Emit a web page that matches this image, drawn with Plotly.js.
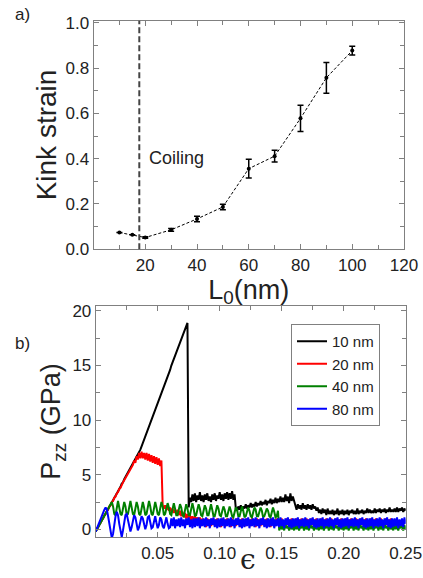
<!DOCTYPE html>
<html>
<head>
<meta charset="utf-8">
<script src="https://cdn.plot.ly/plotly-3.0.1.min.js"></script>
<style>html,body{margin:0;padding:0;background:#fff;}#chart{width:423px;height:578px;}</style>
</head>
<body>
<div id="chart"></div>
<script>
// ---- Panel a) data ----
var lengths = [10, 15, 20, 30, 40, 50, 60, 70, 80, 90, 100];
var kinkStrain = [0.074, 0.064, 0.052, 0.086, 0.134, 0.187, 0.356, 0.411, 0.578, 0.757, 0.877];
var kinkErr = [0, 0, 0.003, 0.006, 0.012, 0.012, 0.041, 0.026, 0.058, 0.068, 0.019];
var coilingL = 17.7;

// ---- Panel b) data (strain step 0.001 from 0) ----
var seriesNames = ['10 nm', '20 nm', '40 nm', '80 nm'];
var seriesColors = ['#000000', '#ff0000', '#008000', '#0000ff'];
var strainStart = 0, strainStep = 0.001;

var p10 = [
-0.2,0.0,0.2,0.4,0.6,0.8,1.0,1.3,1.4,1.7,
1.9,2.0,2.3,2.5,2.6,2.9,3.1,3.3,3.5,3.7,
3.9,4.2,4.3,4.6,4.8,5.0,5.2,5.4,5.6,5.8,
6.0,6.2,6.4,6.6,6.8,7.0,7.3,7.6,7.9,8.2,
8.5,8.8,9.1,9.4,9.7,10.0,10.3,10.7,11.0,11.3,
11.6,11.9,12.2,12.5,12.8,13.1,13.4,13.7,14.0,14.3,
14.6,15.0,15.3,15.6,15.9,16.2,16.5,16.8,17.1,17.4,
17.7,18.0,18.3,18.6,18.9,
2.0,
2.9,2.5,3.2,2.6,3.3,2.5,3.1,2.7,3.4,2.6,
3.1,2.5,3.2,2.7,3.3,2.6,3.0,2.5,3.2,2.7,
3.3,2.6,3.1,2.8,3.4,2.7,3.2,2.6,3.3,2.8,
3.4,2.7,3.3,2.8,3.5,2.7,3.2,
1.9,1.7,2.1,1.8,2.2,1.7,2.1,1.9,
2.3,1.9,2.2,2.0,2.4,2.0,2.3,2.1,2.5,2.1,
2.4,2.2,2.6,2.2,2.5,2.3,2.7,2.2,2.6,2.4,
2.8,2.3,2.7,2.4,2.9,2.4,2.8,2.5,3.0,2.5,
2.9,2.5,3.2,2.6,3.0,2.4,3.3,2.6,3.0,2.5,
2.2,1.8,2.3,1.9,2.2,1.8,2.4,1.9,2.2,1.8,
2.3,1.9,2.2,1.8,2.3,1.9,2.1,1.7,2.0,1.5,
1.8,1.4,1.9,1.5,1.8,1.3,1.9,1.4,1.7,1.4,
1.8,1.3,1.7,1.4,1.9,1.3,1.7,1.4,1.8,1.3,
1.7,1.4,1.8,1.3,1.7,1.5,1.8,1.4,1.7,1.4,
1.9,1.4,1.7,1.5,1.8,1.4,1.7,1.5,1.9,1.5,
1.8,1.5,1.7,1.5,1.9,1.5,1.8,1.6,1.9,1.5,
1.8,1.6,1.9,1.5,1.8,1.6,2.0,1.6,1.8,1.6,
1.9,1.6,2.0,1.6,1.9,1.7,2.0,1.6,1.9,1.7
];

var p20 = [
-0.2,0.1,0.2,0.5,0.6,0.9,1.0,1.3,1.4,1.7,
1.8,2.1,2.2,2.5,2.6,2.9,3.0,3.3,3.4,3.7,
3.8,4.1,4.3,4.5,4.7,5.0,5.1,5.4,5.5,5.8,
5.9,6.3,6.1,6.7,6.4,7.0,6.5,7.1,6.5,7.0,
6.4,7.0,6.3,6.9,6.2,6.8,6.1,6.7,6.0,6.6,
5.9,6.5,5.8,6.3,
2.2,
1.9,2.2,1.8,2.1,1.7,2.0,1.6,1.9,1.5,1.8,
1.4,1.8,1.3,1.7,1.2,1.6,1.1,1.5,1.0,1.4,
0.9,1.3,0.8,1.2,0.7,1.2,0.6,1.1,0.5,1.1,
0.3,1.0,0.4,0.9,0.2,1.0,0.5,0.9,0.3,1.0,
0.4,0.9,0.3,1.0,0.4,0.8,0.2,1.0,0.4,0.9,
0.3,1.0,0.5,0.9,0.2,1.0,0.4,0.8,0.3,1.0,
0.4,0.9,0.2,1.0,0.5,0.9,0.3,1.0,0.4,0.9,
0.3,1.0,0.4,0.9,0.2,1.0,0.5,0.9,0.3,1.0,
0.4,0.9,0.3,1.0,0.4,0.8,0.2,1.0,0.4,0.9,
0.3,1.0,0.5,0.9,0.2,1.0,0.4,0.8,0.3,1.0,
0.4,0.9,0.2,1.0,0.5,0.9,0.3,1.0,0.4,0.9,
0.3,1.0,0.4,0.9,0.2,1.0,0.5,0.9,0.3,1.0,
0.4,0.9,0.3,1.0,0.4,0.8,0.2,1.0,0.4,0.9,
0.3,1.0,0.5,0.9,0.2,1.0,0.4,0.8,0.3,1.0,
0.4,0.9,0.2,1.0,0.5,0.9,0.3,1.0,0.4,0.9,
0.3,1.0,0.4,0.9,0.2,1.0,0.5,0.9,0.3,1.0,
0.4,0.9,0.3,1.0,0.4,0.8,0.2,1.0,0.4,0.9,
0.3,1.0,0.5,0.9,0.2,1.0,0.4,0.8,0.3,1.0,
0.4,0.9,0.2,1.0,0.5,0.9
];

var p40 = [
-0.2,0.0,0.2,0.4,0.6,0.8,1.0,1.2,1.4,1.6,
1.8,2.0,2.2,
2.5,2.1,1.4,1.3,1.9, 2.6,2.0,1.4,1.3,2.0, 2.5,2.1,1.3,1.4,1.9, 2.6,2.0,1.4,1.3,2.0, 2.5,2.1,1.4,1.3,1.9,
2.5,2.0,1.3,1.4,2.0, 2.6,2.1,1.4,1.3,1.9, 2.5,2.0,1.4,1.3,2.0, 2.5,2.1,1.3,1.4,1.9, 2.4,2.0,1.4,1.3,1.9,
2.4,1.9,1.3,1.3,1.8, 2.3,2.0,1.3,1.2,1.9, 2.3,1.9,1.3,1.3,1.8, 2.4,1.9,1.2,1.3,1.8,
2.3,1.9,1.3,1.2,1.8, 2.2,1.9,1.3,1.3,1.8, 2.3,1.8,1.2,1.2,1.7, 2.2,1.9,1.3,1.2,1.8,
2.1,1.8,1.2,1.2,1.7, 2.1,1.7,1.2,1.1,1.7, 2.0,1.8,1.2,1.2,1.6, 2.1,1.7,1.1,1.2,1.7, 2.0,1.7,1.2,1.1,1.6,
2.0,1.8,1.2,1.2,1.7, 2.0,1.7,1.1,1.2,1.6, 1.9,1.7,1.2,1.1,1.6, 2.0,1.6,1.1,1.2,1.7,
-0.1,0.4,0.0,0.3,-0.1,0.5,0.1,0.3,-0.1,0.4,
0.0,0.3,-0.1,0.5,0.0,0.4,-0.1,0.3,0.1,0.4,
-0.1,0.4,0.0,0.3,-0.1,0.5,0.1,0.3,-0.1,0.4,
0.0,0.3,-0.1,0.5,0.0,0.4,-0.1,0.3,0.1,0.4,
-0.1,0.4,0.0,0.3,-0.1,0.5,0.1,0.3,-0.1,0.4,
0.0,0.3,-0.1,0.5,0.0,0.4,-0.1,0.3,0.1,0.4,
-0.1,0.4,0.0,0.3,-0.1,0.5,0.1,0.3,-0.1,0.4,
0.0,0.3,-0.1,0.5,0.0,0.4,-0.1,0.3,0.1,0.4,
-0.1,0.4,0.0,0.3,-0.1,0.5,0.1,0.3,-0.1,0.4,
0.0,0.3,-0.1,0.5,0.0,0.4,-0.1,0.3,0.1,0.4,
-0.1,0.4,0.0
];

var p80 = [
-0.2,0.1,0.4,0.7,1.0,1.3,1.6,1.8,2.0,1.8,
1.2,0.5,-0.2,-0.8,-0.4,0.5,1.2,1.6,1.3,0.5,
-0.3,-0.7,-0.1,0.7,1.3,1.4,0.8,0.1,-0.2,0.2,
0.9,1.3,1.1,0.4,-0.1,0.2,0.9,1.2,1.0,0.3,
0.0,0.4,1.1,1.2,0.7,0.1,0.2,0.9,1.2,0.6,
0.1,0.4,1.1,0.9,0.3,0.1,0.8,1.1,0.5,0.1,
0.2,1.0,0.3,1.1,0.1,0.9,0.3,1.0,0.2,1.1,
0.3,0.9,0.1,1.0,0.4,1.1,0.2,0.9,0.1,1.0,
0.2,1.0,0.3,1.1,0.1,0.9,0.3,1.0,0.2,1.1,
0.3,0.9,0.1,1.0,0.4,1.1,0.2,0.9,0.1,1.0,
0.2,1.0,0.3,1.1,0.1,0.9,0.3,1.0,0.2,1.1,
0.3,0.9,0.1,1.0,0.4,1.1,0.2,0.9,0.1,1.0,
0.2,1.0,0.3,1.1,0.1,0.9,0.3,1.0,0.2,1.1,
0.3,0.9,0.1,1.0,0.4,1.1,0.2,0.9,0.1,1.0,
0.2,1.0,0.3,1.1,0.1,0.9,0.3,1.0,0.2,1.1,
0.3,0.9,0.1,1.0,0.4,1.1,0.2,0.9,0.1,1.0,
0.2,1.0,0.3,1.1,0.1,0.9,0.3,1.0,0.2,1.1,
0.3,0.9,0.1,1.0,0.4,1.1,0.2,0.9,0.1,1.0,
0.2,1.0,0.3,1.1,0.1,0.9,0.3,1.0,0.2,1.1,
0.3,0.9,0.1,1.0,0.4,1.1,0.2,0.9,0.1,1.0,
0.2,1.0,0.3,1.1,0.1,0.9,0.3,1.0,0.2,1.1,
0.3,0.9,0.1,1.0,0.4,1.1,0.2,0.9,0.1,1.0,
0.2,1.0,0.3,1.1,0.1,0.9,0.3,1.0,0.2,1.1,
0.3,0.9,0.1,1.0,0.4,1.1,0.2,0.9,0.1,1.0,
0.2,1.0,0.3,1.1,0.1,0.9,0.3,1.0,0.2,1.1,
0.5
];

var topXTicks = [20, 40, 60, 80, 100, 120];
var topYTicks = [0, 0.2, 0.4, 0.6, 0.8, 1.0];
var botXTicks = [0.05, 0.10, 0.15, 0.20, 0.25];
var botYTicks = [0, 5, 10, 15, 20];

var frame = '#808080';
var txt = '#222222';
var fontFam = 'Liberation Sans, Arial, Helvetica, sans-serif';

var traces = [{
  x: lengths, y: kinkStrain, xaxis: 'x', yaxis: 'y', type: 'scatter', mode: 'lines+markers',
  line: {color: '#000', width: 1, dash: '3px,2px'},
  marker: {color: '#000', size: 4},
  error_y: {type: 'data', array: kinkErr, visible: true, color: '#000', thickness: 1.5, width: 3},
  showlegend: false, hoverinfo: 'skip'
}];
var pdata = [p10, p20, p40, p80];
for (var k = 0; k < pdata.length; k++) {
  traces.push({
    y: pdata[k], x0: strainStart, dx: strainStep, xaxis: 'x2', yaxis: 'y2',
    type: 'scatter', mode: 'lines', name: seriesNames[k],
    line: {color: seriesColors[k], width: 2}
  });
}

function axisBase() {
  return {
    showgrid: false, zeroline: false, showline: true, linecolor: frame, linewidth: 1,
    mirror: 'ticks', ticks: 'inside', ticklen: 5, tickwidth: 1, tickcolor: frame,
    tickfont: {size: 17, color: txt, family: fontFam}
  };
}

var xa = axisBase();
Object.assign(xa, {domain: [93.5/423, 404/423], anchor: 'y', range: [0, 120], tickvals: topXTicks,
  minor: {dtick: 10, tick0: 0, ticks: 'inside', ticklen: 4, tickcolor: frame},
  title: {text: 'L<sub>0</sub>(nm)', font: {size: 27, color: txt, family: fontFam}, standoff: 0}});
var ya = axisBase();
Object.assign(ya, {domain: [1 - 249.3/578, 1 - 20.7/578], anchor: 'x', range: [0, 1.009], tickvals: topYTicks, tickformat: '.1f',
  minor: {dtick: 0.1, tick0: 0, ticks: 'inside', ticklen: 4, tickcolor: frame},
  title: {text: 'Kink strain', font: {size: 28, color: txt, family: fontFam}, standoff: 0}});
var xb = axisBase();
Object.assign(xb, {domain: [95.7/423, 405.7/423], anchor: 'y2', range: [0, 0.25], tickvals: botXTicks, tickformat: '.2f',
  minor: {dtick: 0.025, tick0: 0, ticks: 'inside', ticklen: 4, tickcolor: frame}});
var yb = axisBase();
Object.assign(yb, {domain: [1 - 537.3/578, 1 - 305.7/578], anchor: 'x2', range: [-0.73, 20.48], tickvals: botYTicks,
  minor: {dtick: 2.5, tick0: 0, ticks: 'inside', ticklen: 4, tickcolor: frame},
  title: {text: 'P<sub>zz</sub> (GPa)', font: {size: 27, color: txt, family: fontFam}, standoff: 3}});

var layout = {
  width: 423, height: 578, margin: {l: 0, r: 0, t: 0, b: 0},
  paper_bgcolor: '#fff', plot_bgcolor: '#fff',
  font: {family: fontFam, color: txt, size: 17},
  xaxis: xa, yaxis: ya, xaxis2: xb, yaxis2: yb,
  showlegend: true,
  legend: {x: 291/423, y: 1 - 324/578, xanchor: 'left', yanchor: 'top', bgcolor: '#fff',
    bordercolor: frame, borderwidth: 1, font: {size: 15, color: txt, family: fontFam},
    itemwidth: 30, tracegroupgap: 0},
  shapes: [{type: 'line', xref: 'x', yref: 'y domain', x0: coilingL, x1: coilingL, y0: 0, y1: 1,
    line: {color: '#444', width: 2, dash: '6px,3px'}}],
  annotations: [
    {text: 'Coiling', xref: 'x', yref: 'y', x: 20.8, y: 0.403, xanchor: 'left', yanchor: 'middle', showarrow: false,
      font: {size: 18, color: txt, family: fontFam}},
    {text: 'a)', xref: 'paper', yref: 'paper', x: 13/423, y: 1 - 14/578, xanchor: 'left', yanchor: 'middle', showarrow: false,
      font: {size: 17, color: txt, family: fontFam}},
    {text: 'b)', xref: 'paper', yref: 'paper', x: 13/423, y: 1 - 343/578, xanchor: 'left', yanchor: 'middle', showarrow: false,
      font: {size: 17, color: txt, family: fontFam}},
    {text: 'ϵ', xref: 'paper', yref: 'paper', x: 248/423, y: 0, xanchor: 'center', yanchor: 'bottom', showarrow: false,
      font: {size: 28, color: txt, family: 'DejaVu Serif, serif'}}
  ]
};

Plotly.newPlot('chart', traces, layout, {staticPlot: true, displayModeBar: false});
</script>
</body>
</html>
